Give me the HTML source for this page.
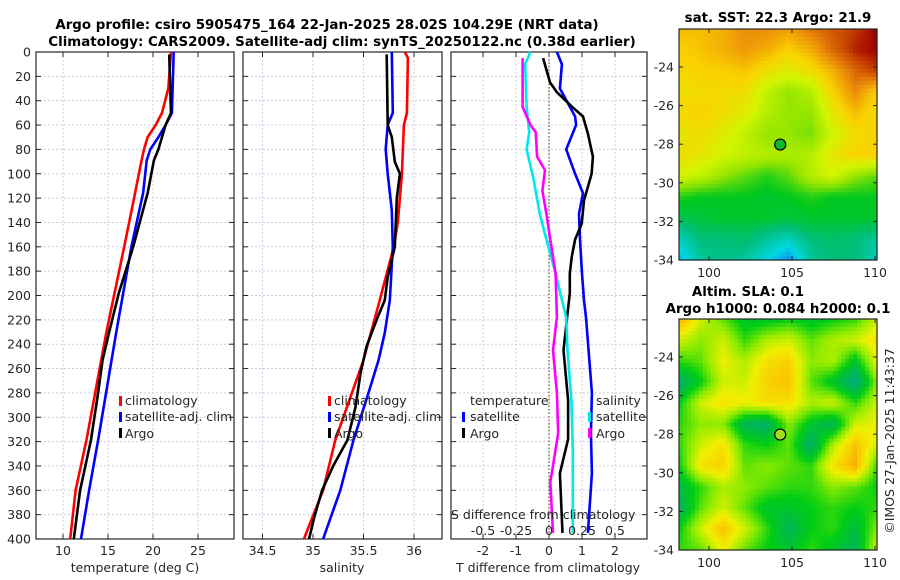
<!DOCTYPE html>
<html><head><meta charset="utf-8"><style>
html,body{margin:0;padding:0;background:#fff;}
svg{display:block;font-family:"DejaVu Sans","Liberation Sans",sans-serif;}
.tk{font-size:12.5px;fill:#262626;}
.tt{font-size:13.4px;font-weight:bold;fill:#000;}
</style></head><body>
<svg id="fig" width="900" height="580" viewBox="0 0 900 580">
<text class="tt" x="327" y="29" text-anchor="middle">Argo profile: csiro 5905475_164 22-Jan-2025 28.02S 104.29E (NRT data)</text>
<text class="tt" x="342" y="46" text-anchor="middle">Climatology: CARS2009. Satellite-adj clim: synTS_20250122.nc (0.38d earlier)</text>
<text class="tt" x="778" y="22" text-anchor="middle">sat. SST: 22.3 Argo: 21.9</text>
<text class="tt" x="748" y="296" text-anchor="middle">Altim. SLA: 0.1</text>
<text class="tt" x="778" y="313" text-anchor="middle">Argo h1000: 0.084 h2000: 0.1</text>
<text class="tk" transform="translate(894,441) rotate(-90)" text-anchor="middle">©IMOS 27-Jan-2025 11:43:37</text>
</svg>
<script>
// ---------- data ----------
const tempDepths = [0,30,50,60,70,80,90,120,160,231,319,360,400];
const tempClim   = [22.0,21.7,21.0,20.3,19.4,19.0,18.7,17.9,16.8,14.8,12.6,11.4,10.8];
const satDepthsT = [0,50,60,70,80,89,116,160,231,319,360,400];
const tempSat    = [22.3,22.1,21.4,20.6,19.7,19.3,18.9,17.6,15.9,13.9,12.9,12.0];
const argoDepthsT= [2,50,60,80,89,116,160,198,231,253,280,319,360,400];
const tempArgo   = [21.8,22.0,21.4,20.6,20.1,19.4,17.8,16.2,15.1,14.4,13.9,13.1,11.9,11.2];

const salDepthsClim = [0,5,50,60,100,140,160,204,253,319,360,400];
const salClim    = [35.91,35.94,35.93,35.90,35.88,35.84,35.80,35.66,35.50,35.22,35.10,34.91];
const salDepthsSat = [0,50,60,80,100,130,160,204,231,253,280,319,360,400];
const salSat     = [35.78,35.79,35.74,35.72,35.74,35.78,35.79,35.76,35.71,35.65,35.55,35.40,35.27,35.10];
const salDepthsArgo = [2,60,70,90,100,120,160,185,204,220,242,264,292,319,340,360,380,400];
const salArgo    = [35.73,35.74,35.78,35.81,35.86,35.83,35.81,35.74,35.71,35.63,35.53,35.47,35.42,35.34,35.20,35.09,35.02,34.96];

const dDepthSatT = [0,10,30,53,60,80,100,116,133,154,182,204,218,280,313,346,395];
const dTSat      = [0.24,0.39,0.33,0.79,0.82,0.52,0.79,1.03,0.91,0.94,1.0,1.06,1.12,1.30,1.27,1.30,1.18];
const dDepthArgoT= [5,25,33,45,53,67,86,100,122,141,154,168,182,198,218,245,286,318,346,395];
const dTArgo     = [-0.18,0.03,0.24,0.70,1.03,1.18,1.33,1.29,1.06,0.99,0.79,0.69,0.63,0.63,0.55,0.44,0.58,0.58,0.33,0.41];
const dDepthArgoS= [5,45,60,66,86,97,114,133,154,182,218,245,280,313,340,353,395];
const dSArgo     = [-0.20,-0.20,-0.14,-0.10,-0.09,-0.03,-0.05,-0.02,0.01,0.05,0.06,0.03,0.06,0.07,0.03,0.01,0.03];
const dDepthSatS = [0,10,45,66,80,103,133,154,182,218,245,286,327,395];
const dSSat      = [-0.14,-0.18,-0.17,-0.15,-0.17,-0.12,-0.07,-0.02,0.05,0.13,0.14,0.17,0.18,0.18];

const depthTicks = [0,20,40,60,80,100,120,140,160,180,200,220,240,260,280,300,320,340,360,380,400];
const tempTicks = [10,15,20,25];
const salTicks = [34.5,35,35.5,36];
const dTTicks = [-2,-1,0,1,2];
const dSTicks = [-0.5,-0.25,0,0.25,0.5];

const sstGrid = [
[.78,.78,.80,.85,.85,.82,.88,.92,.95,1.0],
[.75,.77,.80,.83,.80,.75,.80,.90,.97,1.0],
[.73,.75,.75,.77,.72,.68,.72,.80,.90,.95],
[.72,.73,.73,.72,.62,.55,.60,.75,.85,.75],
[.73,.75,.72,.68,.60,.55,.55,.70,.78,.72],
[.70,.72,.68,.62,.55,.55,.52,.65,.72,.75],
[.72,.70,.65,.62,.60,.58,.60,.70,.75,.75],
[.65,.62,.55,.50,.45,.50,.60,.65,.55,.50],
[.45,.42,.42,.42,.40,.42,.45,.42,.42,.42],
[.35,.38,.40,.40,.40,.38,.40,.40,.40,.40],
[.20,.30,.30,.32,.25,.20,.30,.32,.30,.25],
[.10,.25,.28,.25,.15,.05,.25,.30,.30,.20]];
const slaGrid = [
[.85,.60,.45,.30,.30,.35,.30,.35,.40,.60],
[.60,.50,.60,.40,.55,.60,.45,.55,.60,.70],
[.40,.45,.65,.55,.70,.75,.50,.55,.30,.65],
[.15,.35,.60,.60,.75,.80,.45,.30,.10,.50],
[.35,.60,.70,.65,.70,.70,.55,.60,.40,.60],
[.40,.50,.50,.20,.15,.50,.30,.20,.60,.65],
[.40,.60,.70,.40,.35,.45,.15,.55,.80,.60],
[.35,.70,.75,.45,.50,.45,.40,.70,.85,.40],
[.25,.40,.55,.50,.45,.40,.40,.50,.45,.35],
[.20,.45,.60,.45,.30,.30,.35,.40,.35,.40],
[.35,.60,.80,.60,.40,.20,.35,.40,.25,.50],
[.40,.45,.65,.45,.35,.30,.40,.30,.20,.60]];
const latTicks = [-24,-26,-28,-30,-32,-34];
const lonTicks = [100,105,110];
const argoLon = 104.29, argoLat = -28.02;

// ---------- drawing ----------
const NS='http://www.w3.org/2000/svg';
const svg=document.getElementById('fig');
function mk(tag,attrs,parent){const e=document.createElementNS(NS,tag);for(const k in attrs)e.setAttribute(k,attrs[k]);(parent||svg).appendChild(e);return e;}
const Y0=52,Y1=539;
const yD=d=>Y0+(d/400)*(Y1-Y0);
function lin(d0,d1,r0,r1){return v=>r0+(v-d0)/(d1-d0)*(r1-r0);}
const xT=lin(7,29,36,234);
const xS=lin(35,36,313,414);
const xDT=lin(0,1,549,582);
const xDS=lin(0,0.25,549,582);

function panel(x0,x1,name,xticks,xf,labels){
  const g=mk('g',{});
  
  
  depthTicks.forEach(d=>{if(d>0&&d<400){const l=mk('line',{x1:x0,x2:x1,y1:yD(d),y2:yD(d),stroke:'#c8cde8','stroke-width':1,'stroke-dasharray':'2,2'},g);}
    mk('line',{x1:x0,x2:x0+5,y1:yD(d),y2:yD(d),stroke:'#262626'},g);mk('line',{x1:x1-5,x2:x1,y1:yD(d),y2:yD(d),stroke:'#262626'},g);});
  xticks.forEach(t=>{const x=xf(t);const l=mk('line',{x1:x,x2:x,y1:Y0,y2:Y1,stroke:'#d8c8e0','stroke-width':1,'stroke-dasharray':'2,2'},g);
    mk('line',{x1:x,x2:x,y1:Y1,y2:Y1-5,stroke:'#262626'},g);mk('line',{x1:x,x2:x,y1:Y0,y2:Y0+5,stroke:'#262626'},g);
    if(labels){const tx=mk('text',{x:x,y:555,'text-anchor':'middle',class:'tk'},g);tx.textContent=t;}});
  const r=mk('rect',{x:x0,y:Y0,width:x1-x0,height:Y1-Y0,fill:'none',stroke:'#262626','stroke-width':1.2},g);
  
  return g;
}
function line(g,xs,ds,xf,color,name){
  const p=xs.map((v,i)=>xf(v).toFixed(1)+','+yD(ds[i]).toFixed(1)).join(' ');
  const pl=mk('polyline',{points:p,fill:'none',stroke:color,'stroke-width':2.6,'stroke-linejoin':'round'},g);
  
  
}
function txt(g,x,y,s,name,anchor){const t=mk('text',{x:x,y:y,class:'tk','text-anchor':anchor||'start'},g);t.textContent=s;return t;}
function legBar(g,x,y,color,name){const r=mk('rect',{x:x,y:y,width:3,height:10,fill:color},g);}

// panel 1
const g1=panel(36,234,'temperature-panel',tempTicks,xT,true);
depthTicks.forEach(d=>{txt(g1,31,yD(d)+4.5,d,'y-tick-label','end');});
line(g1,tempClim,tempDepths,xT,'#ff0000','temp-climatology-line');
line(g1,tempSat,satDepthsT,xT,'#0000ff','temp-satellite-line');
line(g1,tempArgo,argoDepthsT,xT,'#000000','temp-argo-line');
txt(g1,135,572,'temperature (deg C)','x-axis-title','middle');
legBar(g1,119,396,'#ff0000','legend-climatology-swatch');txt(g1,125,405,'climatology','legend-climatology');
legBar(g1,119,412,'#0000ff','legend-satellite-swatch');txt(g1,125,421,'satellite-adj. clim','legend-satellite');
legBar(g1,119,428,'#000000','legend-argo-swatch');txt(g1,125,438,'Argo','legend-argo');

// panel 2
const g2=panel(243,442,'salinity-panel',salTicks,xS,true);
line(g2,salClim,salDepthsClim,xS,'#ff0000','sal-climatology-line');
line(g2,salSat,salDepthsSat,xS,'#0000ff','sal-satellite-line');
line(g2,salArgo,salDepthsArgo,xS,'#000000','sal-argo-line');
txt(g2,342,572,'salinity','x-axis-title','middle');
legBar(g2,328,396,'#ff0000','legend-climatology-swatch');txt(g2,334,405,'climatology','legend-climatology');
legBar(g2,328,412,'#0000ff','legend-satellite-swatch');txt(g2,334,421,'satellite-adj. clim','legend-satellite');
legBar(g2,328,428,'#000000','legend-argo-swatch');txt(g2,334,438,'Argo','legend-argo');

// panel 3
const g3=panel(451,647,'difference-panel',dTTicks,xDT,true);
const zl=mk('line',{x1:xDT(0),x2:xDT(0),y1:Y0,y2:Y1,stroke:'#606030','stroke-width':1.2,'stroke-dasharray':'1.5,2'},g3);

line(g3,dTSat,dDepthSatT,xDT,'#0000ff','dT-satellite-line');
line(g3,dTArgo,dDepthArgoT,xDT,'#000000','dT-argo-line');
line(g3,dSSat,dDepthSatS,xDS,'#00e8e8','dS-satellite-line');
line(g3,dSArgo,dDepthArgoS,xDS,'#ff00ff','dS-argo-line');
txt(g3,548,572,'T difference from climatology','x-axis-title','middle');
txt(g3,451,519,'S difference from climatology','s-axis-title');
dSTicks.forEach(t=>txt(g3,xDS(t),535,String(t),'s-tick-label','middle'));
txt(g3,470,405,'temperature','legend-temperature-header');
legBar(g3,462,412,'#0000ff','legend-t-satellite-swatch');txt(g3,470,421,'satellite','legend-t-satellite');
legBar(g3,462,428,'#000000','legend-t-argo-swatch');txt(g3,470,438,'Argo','legend-t-argo');
txt(g3,596,405,'salinity','legend-salinity-header');
legBar(g3,588,412,'#00e8e8','legend-s-satellite-swatch');txt(g3,596,421,'satellite','legend-s-satellite');
legBar(g3,588,428,'#ff00ff','legend-s-argo-swatch');txt(g3,596,438,'Argo','legend-s-argo');

// maps
function cmapSST(v){const st=[[0,[20,110,255]],[0.15,[0,215,225]],[0.3,[0,190,120]],[0.42,[0,200,30]],[0.55,[150,230,0]],[0.65,[210,245,0]],[0.75,[250,210,0]],[0.85,[235,140,10]],[0.93,[205,80,0]],[1,[160,0,0]]];return cm(st,v);}
function cmapSLA(v){const st=[[0,[0,170,150]],[0.2,[0,180,90]],[0.35,[0,205,20]],[0.5,[140,235,0]],[0.65,[240,240,0]],[0.78,[250,200,0]],[0.9,[240,150,20]],[1,[230,120,20]]];return cm(st,v);}
function cm(st,v){v=Math.max(0,Math.min(1,v));for(let i=1;i<st.length;i++){if(v<=st[i][0]){const a=st[i-1],b=st[i];const t=(v-a[0])/(b[0]-a[0]);const c=a[1].map((x,k)=>Math.round(x+(b[1][k]-x)*t));return 'rgb('+c.join(',')+')';}}return 'rgb('+st[st.length-1][1].join(',')+')';}
function sample(grid,fx,fy){const R=grid.length,C=grid[0].length;const gx=Math.max(0,Math.min(C-1,fx*(C-1))),gy=Math.max(0,Math.min(R-1,fy*(R-1)));const i0=Math.floor(gy),j0=Math.floor(gx),i1=Math.min(R-1,i0+1),j1=Math.min(C-1,j0+1);const ty=gy-i0,tx=gx-j0;return (grid[i0][j0]*(1-tx)+grid[i0][j1]*tx)*(1-ty)+(grid[i1][j0]*(1-tx)+grid[i1][j1]*tx)*ty;}
function map(name,grid,cmap,x0,x1,y0,y1,latTopPx,lat24px,markerFill){
  const g=mk('g',{});
  const NX=50,NY=58,w=(x1-x0)/NX,h=(y1-y0)/NY;
  for(let i=0;i<NY;i++)for(let j=0;j<NX;j++){const v=sample(grid,(j+0.5)/NX,(i+0.5)/NY);
    mk('rect',{x:(x0+j*w).toFixed(2),y:(y0+i*h).toFixed(2),width:(w+0.6).toFixed(2),height:(h+0.6).toFixed(2),fill:cmap(v)},g);}
  const lonX=lin(100,110,709,875);
  const latY=lin(-34,-24,y1,lat24px);
  latTicks.forEach(t=>{const y=latY(t);mk('line',{x1:x0,x2:x0+4,y1:y,y2:y,stroke:'#262626'},g);mk('line',{x1:x1-4,x2:x1,y1:y,y2:y,stroke:'#262626'},g);txt(g,x0-5,y+4.5,String(t),'lat-tick-label','end');});
  lonTicks.forEach(t=>{const x=lonX(t);mk('line',{x1:x,x2:x,y1:y1,y2:y1-4,stroke:'#262626'},g);mk('line',{x1:x,x2:x,y1:y0,y2:y0+4,stroke:'#262626'},g);txt(g,x,y1+17,String(t),'lon-tick-label','middle');});
  const b=mk('rect',{x:x0,y:y0,width:x1-x0,height:y1-y0,fill:'none',stroke:'#262626','stroke-width':1.2},g);
  
  const c=mk('circle',{cx:lonX(argoLon),cy:latY(argoLat),r:5.5,fill:markerFill,stroke:'#000','stroke-width':1.2},g);
  
}
map('sst-map',sstGrid,cmapSST,679,877,29,260,29,67,'#10b830');
map('sla-map',slaGrid,cmapSLA,679,877,319,550,319,357,'#a0e020');
</script>
</body></html>
